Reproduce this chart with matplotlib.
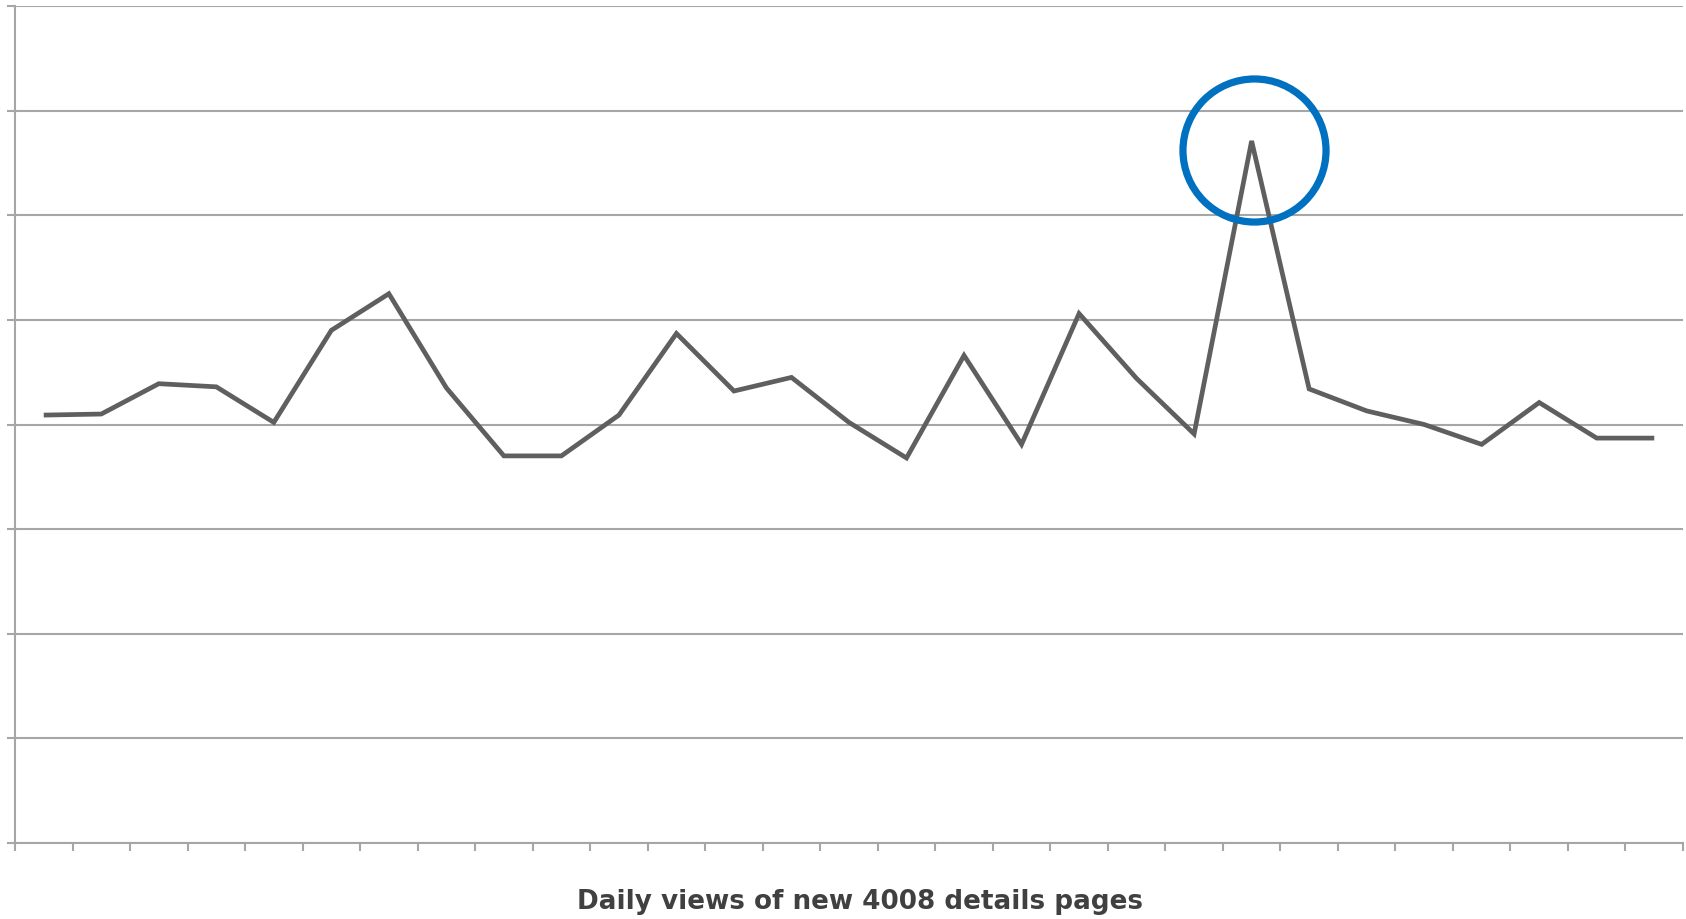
import matplotlib
matplotlib.use("Agg")
import matplotlib.pyplot as plt
import numpy as np

# Daily view counts (29 days)
days = list(range(1, 30))
views = [409, 410, 439, 436, 402, 490, 525, 435, 370, 370,
         409, 487, 432, 445, 402, 368, 466, 381, 506, 444,
         391, 671, 434, 413, 400, 381, 421, 387, 387]
y_ticks = [0, 100, 200, 300, 400, 500, 600, 700, 800]
title = "Daily views of new 4008 details pages"

line_color = "#5f5f5f"
grid_color = "#a6a6a6"
highlight_color = "#0070c0"

fig = plt.figure(figsize=(16.86, 9.2), dpi=100)
ax = fig.add_axes([15 / 1686, 76 / 920, 1668 / 1686, 837 / 920])

x = np.arange(len(days))
ax.plot(x, views, color=line_color, lw=3.4, solid_joinstyle="miter",
        solid_capstyle="butt", zorder=3)

# Circle around the busiest day
peak = int(np.argmax(views))
ax.plot(peak + 0.04, views[peak] - 9, marker="o", ms=103, mfc="none",
        mec=highlight_color, mew=5.2, zorder=4, clip_on=False)

ax.set_xlim(-0.5, len(days) - 0.5)
ax.set_ylim(y_ticks[0], y_ticks[-1])
ax.set_yticks(y_ticks)
ax.set_yticklabels([])
ax.set_xticks(np.arange(len(days) + 1) - 0.5)
ax.set_xticklabels([])
ax.yaxis.grid(True, color=grid_color, lw=1.5)
ax.set_axisbelow(True)

for side in ("top", "right"):
    ax.spines[side].set_visible(False)
for side in ("left", "bottom"):
    ax.spines[side].set_color(grid_color)
    ax.spines[side].set_linewidth(1.5)
ax.tick_params(axis="both", direction="out", length=6, width=1.5,
               color=grid_color)

fig.text(860 / 1686, 1 - 902 / 920, title, ha="center", va="center",
         fontsize=18.9, fontweight="bold", color="#404040")

fig.savefig("out.png", dpi=100, facecolor="white")
